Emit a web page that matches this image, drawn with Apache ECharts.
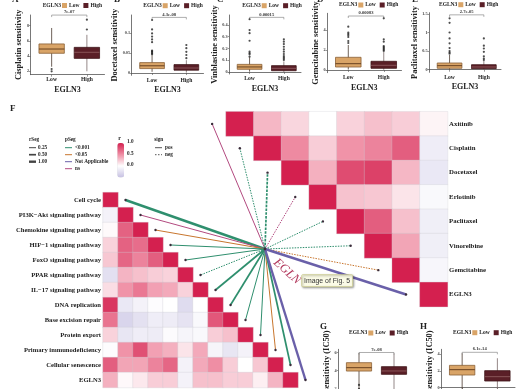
<!DOCTYPE html>
<html>
<head>
<meta charset="utf-8">
<style>
  html, body { margin: 0; padding: 0; background: #fff; }
  #container { width: 520px; height: 389px; filter: blur(0.3px); }
</style>
<script src="https://cdn.jsdelivr.net/npm/echarts@6/dist/echarts.min.js"></script>
</head>
<body>
<div id="container"></div>
<script>
// box stats are [min, q1, median, q3, max]
var groups = ['Low', 'High'];

var cisplatinLow = [2.6, 4.37, 4.93, 5.6, 7.7];
var cisplatinHigh = [2.0, 3.7, 4.5, 5.15, 6.8];
var cisplatinLowOut = [2.3, 2.0];
var cisplatinHighOut = [7.5, 8.8];

var docetaxelLow = [0.003, 0.011, 0.018, 0.026, 0.045];
var docetaxelHigh = [0.001, 0.007, 0.0125, 0.021, 0.032];
var docetaxelLowOut = [0.1325, 0.109, 0.099, 0.091, 0.084, 0.077, 0.056, 0.054, 0.052, 0.049, 0.047];
var docetaxelHighOut = [0.07, 0.062, 0.053, 0.045, 0.037];

var vinblastineLow = [0.003, 0.023, 0.043, 0.065, 0.125];
var vinblastineHigh = [0.001, 0.011, 0.031, 0.054, 0.09];
var vinblastineLowOut = [0.449, 0.357, 0.33, 0.266, 0.173, 0.16, 0.15, 0.13];
var vinblastineHighOut = [0.278, 0.258, 0.238, 0.215, 0.193, 0.173, 0.153, 0.136, 0.125, 0.113, 0.102];

var gemcitabineLow = [0.05, 0.3, 0.63, 1.27, 2.5];
var gemcitabineHigh = [0.02, 0.17, 0.47, 0.87, 1.8];
var gemcitabineLowOut = [4.33, 3.73, 3.6, 3.47, 3.3, 2.9, 2.7];
var gemcitabineHighOut = [5.17, 3.07, 2.83, 2.4, 2.3, 2.2, 2.1, 2.0, 1.9];

var paclitaxelLow = [0.005, 0.038, 0.108, 0.18, 0.395];
var paclitaxelHigh = [0.003, 0.027, 0.073, 0.134, 0.234];
var paclitaxelLowOut = [1.38, 1.26, 1.0, 0.84, 0.71, 0.58, 0.5, 0.46, 0.43];
var paclitaxelHighOut = [0.84, 0.645, 0.57, 0.48, 0.36, 0.3, 0.26];

var panelGLow = [1.0, 3.96, 4.33, 4.88, 5.95];
var panelGHigh = [0.8, 3.6, 3.97, 4.44, 5.9];
var panelGLowOut = [2.43, 2.0];
var panelGHighOut = [];

var panelHLow = [-1.5, 1.52, 2.16, 2.68, 4.12];
var panelHHigh = [-1.5, 0.8, 1.32, 2.04, 3.53];
var panelHLowOut = [];
var panelHHighOut = [];

var pathways = ['Cell cycle', 'PI3K\u2212Akt signaling pathway', 'Chemokine signaling pathway',
  'HIF\u22121 signaling pathway', 'FoxO signaling pathway', 'PPAR signaling pathway',
  'IL\u221217 signaling pathway', 'DNA replication', 'Base excision repair', 'Protein export',
  'Primary immunodeficiency', 'Cellular senescence', 'EGLN3'];

// lower triangle, row by row
var pathwayCorr = [
  [1],
  [-0.1, 1],
  [0.02, 0.7, 1],
  [0.2, 0.7, 0.65, 1],
  [0.25, 0.68, 0.55, 0.72, 1],
  [-0.25, 0.33, 0.28, 0.22, 0.2, 1],
  [0.15, 0.48, 0.6, 0.42, 0.38, 0.2, 1],
  [0.9, -0.18, -0.1, -0.02, 0, -0.28, 0, 1],
  [0.62, -0.33, -0.24, -0.14, -0.15, -0.22, -0.05, 0.75, 1],
  [0.2, -0.2, -0.14, -0.15, -0.03, -0.08, -0.05, 0.22, 0.28, 1],
  [-0.02, 0.48, 0.78, 0.42, 0.35, 0.12, 0.38, -0.08, -0.2, -0.1, 1],
  [0.72, 0.4, 0.4, 0.55, 0.68, -0.1, 0.38, 0.5, 0.22, 0, 0.25, 1],
  [0.35, 0.03, 0.1, 0.22, 0.22, -0.1, 0.28, 0.28, 0.22, 0.22, 0.07, 0.33, 1]
];

var drugs = ['Axitinib', 'Cisplatin', 'Docetaxel', 'Erlotinib', 'Paclitaxel', 'Vinorelbine', 'Gemcitabine', 'EGLN3'];

// upper triangle, each row starts on the diagonal
var drugCorr = [
  [1, 0.32, 0.18, 0, 0.2, 0.28, 0.22, 0.05],
  [1, 0.52, 0.22, 0.48, 0.55, 0.72, -0.14],
  [1, 0.35, 0.8, 0.85, 0.32, -0.18],
  [1, 0.27, 0.25, 0.12, -0.05],
  [1, 0.72, 0.28, -0.13],
  [1, 0.4, -0.13],
  [1, -0.07],
  [1]
];

// mantel links, same order as the row lists
var pathwayLinkR = [1, 0.25, 0.25, 0.25, 0.25, 0.25, 0.5, 0.5, 0.25, 0.25, 0.25, 0.5, 1];
var pathwayLinkP = ['<0.001', 'ns', '<0.05', '<0.001', '<0.001', '<0.001', '<0.001', '<0.001', '<0.001', '<0.001', '<0.05', '<0.001', 'Not Applicable'];
var pathwayLinkSign = ['pos', 'pos', 'pos', 'pos', 'pos', 'neg', 'pos', 'pos', 'pos', 'pos', 'pos', 'pos', 'pos'];

var drugLinkR = [0.25, 0.25, 0.5, 0.25, 0.25, 0.25, 0.25, 1];
var drugLinkP = ['ns', '<0.001', '<0.001', 'ns', '<0.001', '<0.001', '<0.05', 'Not Applicable'];
var drugLinkSign = ['pos', 'neg', 'neg', 'neg', 'neg', 'neg', 'neg', 'pos'];

var rSegs = [0.25, 0.5, 1];
var pSegs = ['<0.001', '<0.05', 'Not Applicable', 'ns'];
var signs = ['pos', 'neg'];

var serif = '"Liberation Serif", serif';
var pColors = { '<0.001': '#2f8f6e', '<0.05': '#c8762e', 'Not Applicable': '#6a60a9', 'ns': '#b34a80' };
var rWidths = { 0.25: 1, 0.5: 1.7, 1: 2.4 };
var hub = [265, 249];

var panels = [
  { letter: 'A', letterX: 12, title: 'Cisplatin sensitivity', low: cisplatinLow, high: cisplatinHigh, lowOut: cisplatinLowOut, highOut: cisplatinHighOut,
    ticks: [2, 4, 6, 8], min: 1.55, max: 9.41, bracket: 9.4, p: '7e-07', left: 30.5, width: 74, top: 15, height: 59.7, nameGap: 7, swatchX: 62, legendY: 5.5 },
  { letter: 'B', letterX: 114, title: 'Docetaxel sensitivity', low: docetaxelLow, high: docetaxelHigh, lowOut: docetaxelLowOut, highOut: docetaxelHighOut,
    ticks: [0, 0.05, 0.1], min: -0.00575, max: 0.145, bracket: 0.139, p: '4.3e-08', left: 131.5, width: 72, top: 15, height: 60.3, nameGap: 7, swatchX: 162.7, legendY: 5.7 },
  { letter: 'C', letterX: 217, title: 'Vinblastine sensitivity', low: vinblastineLow, high: vinblastineHigh, lowOut: vinblastineLowOut, highOut: vinblastineHighOut,
    ticks: [0, 0.1, 0.2, 0.3, 0.4], min: -0.017, max: 0.485, bracket: 0.465, p: '0.00015', left: 229, width: 72, top: 15, height: 59, nameGap: 3, swatchX: 261.7, legendY: 5.7 },
  { letter: 'D', letterX: 317, title: 'Gemcitabine sensitivity', low: gemcitabineLow, high: gemcitabineHigh, lowOut: gemcitabineLowOut, highOut: gemcitabineHighOut,
    ticks: [0, 2, 4], min: -0.27, max: 5.67, bracket: 5.4, p: '0.00083', left: 327, width: 74.5, top: 13.3, height: 59.4, nameGap: 3, swatchX: 358.3, legendY: 5 },
  { letter: 'E', letterX: 412, title: 'Paclitaxel sensitivity', low: paclitaxelLow, high: paclitaxelHigh, lowOut: paclitaxelLowOut, highOut: paclitaxelHighOut,
    ticks: [0, 0.5, 1, 1.5], min: -0.07, max: 1.532, bracket: 1.474, p: '2.7e-05', left: 429, width: 72, top: 12.7, height: 59.6, nameGap: 6, swatchX: 458.3, legendY: 4.7 },
  { letter: 'G', letterX: 320, letterY: 327, title: 'sensitivity (IC50)', low: panelGLow, high: panelGHigh, lowOut: panelGLowOut, highOut: panelGHighOut,
    ticks: [2, 4, 6], min: -0.21, max: 6.35, bracket: 6.0, p: '7e-08', left: 338, width: 73.5, top: 349.3, height: 59.7, clippedName: true, swatchX: 368.3, legendY: 333 },
  { letter: 'H', letterX: 420, letterY: 326.7, title: 'sensitivity (IC50)', low: panelHLow, high: panelHHigh, lowOut: panelHLowOut, highOut: panelHHighOut,
    ticks: [0, 2, 4], min: -2.55, max: 4.6, bracket: 4.24, p: '6.1e-14', left: 441, width: 74, top: 349.3, height: 59.7, clippedName: true, swatchX: 472.3, legendY: 332.7 }
];

function boxRenderer(fill, border, median, whisker) {
  return function (params, api) {
    var x = api.value(0);
    var halfW = api.size([0.72, 0])[0] / 2;
    var lo = api.coord([x, api.value(1)]);
    var q1 = api.coord([x, api.value(2)]);
    var med = api.coord([x, api.value(3)]);
    var q3 = api.coord([x, api.value(4)]);
    var hi = api.coord([x, api.value(5)]);
    return {
      type: 'group',
      children: [
        { type: 'line', shape: { x1: lo[0], y1: lo[1], x2: hi[0], y2: hi[1] }, style: { stroke: whisker, lineWidth: 0.8 } },
        { type: 'rect', shape: { x: q3[0] - halfW, y: q3[1], width: halfW * 2, height: q1[1] - q3[1] }, style: { fill: fill, stroke: border, lineWidth: 0.8 } },
        { type: 'line', shape: { x1: med[0] - halfW, y1: med[1], x2: med[0] + halfW, y2: med[1] }, style: { stroke: median, lineWidth: 0.9 } }
      ]
    };
  };
}

function bracketRenderer(label) {
  return function (params, api) {
    var a = api.coord([1, api.value(1)]);
    var b = api.coord([2, api.value(1)]);
    return {
      type: 'group',
      children: [
        { type: 'polyline', shape: { points: [[a[0], a[1] + 2], a, b, [b[0], b[1] + 2]] }, style: { fill: null, stroke: '#777', lineWidth: 0.6 } },
        { type: 'text', style: { text: label, x: (a[0] + b[0]) / 2, y: a[1] - 0.5, align: 'center', verticalAlign: 'bottom', fill: '#333', font: 'bold 4.6px ' + serif } }
      ]
    };
  };
}

function linkRenderer(rList, pList, signList, colFor) {
  return function (params, api) {
    var i = params.dataIndex;
    var end = api.coord([colFor(i), i]);
    // dash numbers are multiplied by the line width
    var dash = signList[i] === 'neg' ? (rList[i] >= 0.5 ? [2.6, 1.2] : [1.5, 1.2]) : null;
    return {
      type: 'group',
      children: [
        { type: 'line', shape: { x1: hub[0], y1: hub[1], x2: end[0], y2: end[1] }, style: { stroke: pColors[pList[i]], lineWidth: rWidths[rList[i]], lineDash: dash } },
        { type: 'circle', shape: { cx: end[0], cy: end[1], r: 1.2 }, style: { fill: '#3a2c3a' } }
      ]
    };
  };
}

function triangleCells(rows, upper) {
  var cells = [];
  rows.forEach(function (row, r) {
    row.forEach(function (v, c) {
      // right matrix has a blank first column for the link ends
      cells.push(upper ? [r + c + 1, r, v] : [c, r, v]);
    });
  });
  return cells;
}

var grids = [], xAxes = [], yAxes = [], legends = [], series = [];

// heatmaps come first so the visualMap can point at them
series.push({ type: 'heatmap', name: 'pathways', xAxisIndex: 7, yAxisIndex: 7, data: triangleCells(pathwayCorr, false),
  itemStyle: { borderColor: 'rgba(205,205,210,0.6)', borderWidth: 0.5 } });
series.push({ type: 'heatmap', name: 'drugs', xAxisIndex: 8, yAxisIndex: 8, data: triangleCells(drugCorr, true),
  itemStyle: { borderColor: 'rgba(205,205,210,0.6)', borderWidth: 0.5 } });

var graphic = [];
function addText(text, x, y, size, opts) {
  opts = opts || {};
  graphic.push({
    type: 'text', x: x, y: y, rotation: opts.rotation || 0, z: opts.z || 5,
    style: { text: text, fill: opts.fill || '#222', align: opts.align || 'left', verticalAlign: 'middle',
      font: (opts.italic ? 'italic ' : '') + (opts.normal ? '' : 'bold ') + size + 'px ' + (opts.family || serif) }
  });
}
function addLine(x1, x2, y, color, width, dash) {
  graphic.push({ type: 'line', shape: { x1: x1, y1: y, x2: x2, y2: y }, style: { stroke: color, lineWidth: width, lineDash: dash || null } });
}

panels.forEach(function (p, i) {
  grids.push({ left: p.left, top: p.top, width: p.width, height: p.height, outerBoundsMode: 'none' });
  xAxes.push({
    gridIndex: i, type: 'value', min: 0.4, max: 2.5, splitLine: { show: false },
    axisLine: { lineStyle: { color: '#555', width: 0.8 } },
    axisTick: { show: true, length: 2, customValues: [1, 2], lineStyle: { color: '#555', width: 0.6 } },
    axisLabel: { customValues: [1, 2], margin: 2, fontSize: 5.6, fontWeight: 'bold', fontFamily: serif, color: '#222',
      formatter: function (v) { return groups[v - 1]; } },
    name: 'EGLN3', nameLocation: 'middle', nameGap: 11,
    nameTextStyle: { fontSize: 8, fontWeight: 'bold', fontFamily: serif, color: '#222' }
  });
  yAxes.push({
    gridIndex: i, type: 'value', min: p.min, max: p.max, splitLine: { show: false },
    axisLine: { show: true, lineStyle: { color: '#555', width: 0.8 } },
    axisTick: { show: true, length: 1.5, customValues: p.ticks, lineStyle: { color: '#555', width: 0.6 } },
    axisLabel: { customValues: p.ticks, margin: 1.5, fontSize: 4.2, fontWeight: 'bold', fontFamily: serif, color: '#444' },
    name: p.clippedName ? '' : p.title, nameLocation: 'middle', nameGap: p.nameGap, nameRotate: 90,
    nameTextStyle: { fontSize: 8.4, fontWeight: 'bold', fontFamily: serif, color: '#222' }
  });
  if (p.clippedName) {
    // these two run off the bottom of the crop
    addText(p.title, p.left - 11, 361, 8.4, { rotation: Math.PI / 2, align: 'center' });
  }
  series.push({ type: 'custom', name: 'Low', xAxisIndex: i, yAxisIndex: i, clip: false,
    itemStyle: { color: '#d9a467' }, encode: { x: 0, y: [1, 2, 3, 4, 5] },
    renderItem: boxRenderer('#d9a467', '#8a6137', '#5a3517', '#4a3a30'), data: [[1].concat(p.low)] });
  series.push({ type: 'custom', name: 'High', xAxisIndex: i, yAxisIndex: i, clip: false,
    itemStyle: { color: '#5a1f27' }, encode: { x: 0, y: [1, 2, 3, 4, 5] },
    renderItem: boxRenderer('#5a1f27', '#3d1418', '#8d5a5e', '#7a6a6a'), data: [[2].concat(p.high)] });
  series.push({ type: 'scatter', name: 'Low outliers', xAxisIndex: i, yAxisIndex: i, symbolSize: 2.2, itemStyle: { color: '#222' },
    data: p.lowOut.map(function (v) { return [1, v]; }) });
  series.push({ type: 'scatter', name: 'High outliers', xAxisIndex: i, yAxisIndex: i, symbolSize: 2.2, itemStyle: { color: '#222' },
    data: p.highOut.map(function (v) { return [2, v]; }) });
  series.push({ type: 'custom', name: 'bracket', xAxisIndex: i, yAxisIndex: i, clip: false, encode: { x: 0, y: 1 },
    renderItem: bracketRenderer(p.p), data: [[1, p.bracket]] });
  legends.push({
    left: p.swatchX, top: p.legendY - 3, padding: 0, itemWidth: 5, itemHeight: 5, itemGap: 4, selectedMode: false,
    icon: 'rect', data: groups, textStyle: { fontSize: 5.5, fontWeight: 'bold', fontFamily: serif, color: '#222', padding: [0, 0, 0, -3] }
  });
  addText('EGLN3', p.swatchX - 1, p.legendY, 5.5, { align: 'right' });
  addText(p.letter, p.letterX, p.letterY || 0, 9, {});
});

// left heatmap
grids.push({ left: 103, top: 192.5, width: 210, height: 195, outerBoundsMode: 'none' });
xAxes.push({ gridIndex: 7, type: 'category', show: false, data: pathways.concat(['']) });
yAxes.push({ gridIndex: 7, type: 'category', inverse: true, data: pathways,
  axisLine: { show: false }, axisTick: { show: false },
  axisLabel: { margin: 2, fontSize: 6.6, fontWeight: 'bold', fontFamily: serif, color: '#222', interval: 0 } });

// right heatmap
grids.push({ left: 198.3, top: 111.7, width: 249.3, height: 195, outerBoundsMode: 'none' });
xAxes.push({ gridIndex: 8, type: 'category', show: false, data: [''].concat(drugs) });
yAxes.push({ gridIndex: 8, type: 'category', inverse: true, position: 'right', data: drugs,
  axisLine: { show: false }, axisTick: { show: false },
  axisLabel: { margin: 1.5, fontSize: 6.8, fontWeight: 'bold', fontFamily: serif, color: '#222', interval: 0 } });

series.push({ type: 'custom', name: 'pathway links', xAxisIndex: 7, yAxisIndex: 7, clip: false, z: 3,
  renderItem: linkRenderer(pathwayLinkR, pathwayLinkP, pathwayLinkSign, function (i) { return i + 1; }),
  encode: { y: 0 }, data: pathways.map(function (d, i) { return [i]; }) });
series.push({ type: 'custom', name: 'drug links', xAxisIndex: 8, yAxisIndex: 8, clip: false, z: 3,
  renderItem: linkRenderer(drugLinkR, drugLinkP, drugLinkSign, function (i) { return i; }),
  encode: { y: 0 }, data: drugs.map(function (d, i) { return [i]; }) });

// panel F legends
addText('F', 10, 109, 9, {});
addText('rSeg', 29, 140, 5.2, {});
rSegs.forEach(function (r, i) {
  addLine(29, 36, 147.7 + i * 7, '#444', rWidths[r]);
  addText(r.toFixed(2), 38, 147.7 + i * 7, 5.2, {});
});
addText('pSeg', 65, 140, 5.2, {});
pSegs.forEach(function (s, i) {
  addLine(65, 72, 147.7 + i * 7, pColors[s], 1);
  addText(s, 75, 147.7 + i * 7, 5.2, {});
});
addText('r', 118.3, 138.5, 6, {});
addText('1.0', 127, 142, 5.2, {});
addText('0.5', 127, 153.8, 5.2, {});
addText('0.0', 127, 165, 5.2, {});
addText('sign', 154.3, 139.7, 5.2, {});
signs.forEach(function (s, i) {
  addLine(155, 162, 147.7 + i * 7, '#444', 0.9, s === 'neg' ? [1.5, 1.5] : null);
  addText(s, 165, 147.7 + i * 7, 5.2, {});
});

// hub node, label and the viewer tooltip that sits over the figure
graphic.push({ type: 'circle', shape: { cx: hub[0], cy: hub[1], r: 1.4 }, style: { fill: '#3a2c3a' }, z: 6 });
addText('EGLN', 287, 271.5, 12.5, { italic: true, normal: true, fill: '#b2385c', rotation: -0.74, align: 'center', z: 6 });
graphic.push({ type: 'rect', shape: { x: 301.7, y: 274.7, width: 51, height: 12, r: 1 }, z: 7,
  style: { fill: '#fbfbe6', stroke: '#c9c98a', lineWidth: 0.8, shadowBlur: 2, shadowColor: 'rgba(0,0,0,0.35)', shadowOffsetX: 1, shadowOffsetY: 1 } });
addText('Image of Fig. 5', 304, 281, 6.9, { normal: true, family: '"Liberation Sans", sans-serif', fill: '#333', z: 8 });

var dom = document.getElementById('container');
var myChart = echarts.init(dom, null, { renderer: 'canvas' });

var option = {
  backgroundColor: '#fff',
  animation: false,
  grid: grids,
  xAxis: xAxes,
  yAxis: yAxes,
  legend: legends,
  visualMap: {
    type: 'continuous', seriesIndex: [0, 1], dimension: 2, min: -0.5, max: 1, calculable: false,
    left: 117.3, top: 143, itemWidth: 6.8, itemHeight: 34.5, padding: 0, text: null,
    inRange: { color: ['#c6c0e2', '#ffffff', '#ef8ea4', '#d4204f'] }
  },
  series: series,
  graphic: graphic
};

myChart.setOption(option);
window.addEventListener('resize', myChart.resize);
</script>
</body>
</html>
